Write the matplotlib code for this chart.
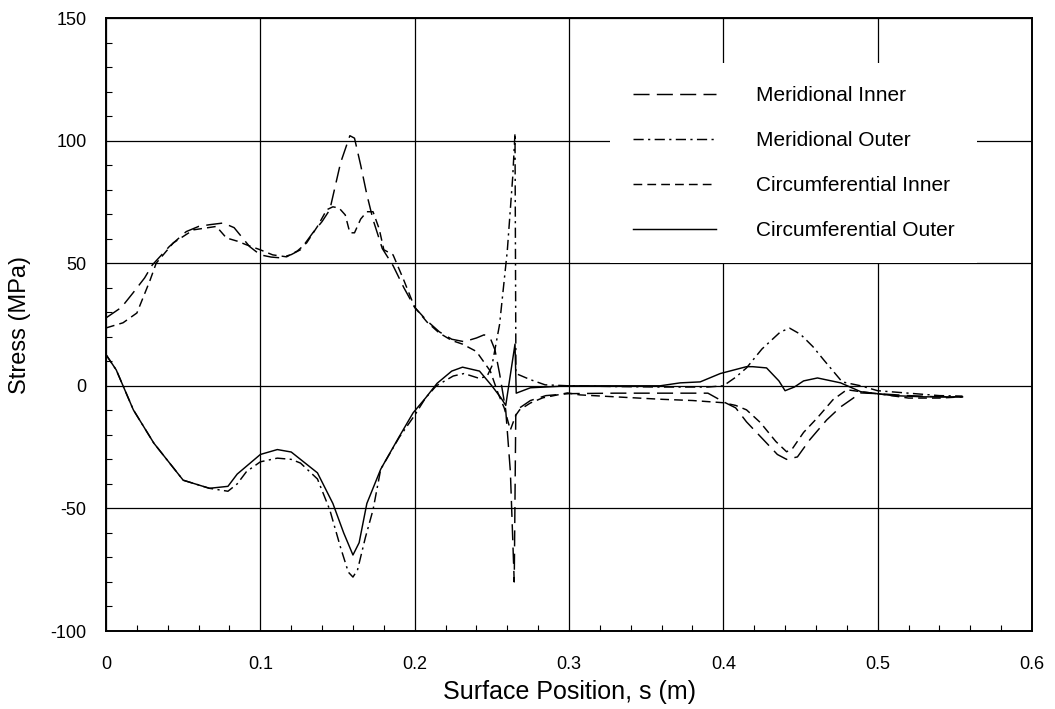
import matplotlib
matplotlib.use("Agg")
import matplotlib.pyplot as plt
from matplotlib.ticker import MultipleLocator, FuncFormatter

plt.rcParams["font.family"] = ["Liberation Sans", "DejaVu Sans"]
plt.rcParams["axes.unicode_minus"] = False

# Surface position (m) and stress (MPa) for each stress component
mer_in_s = [0, 0.010, 0.0175, 0.025, 0.030, 0.041, 0.052, 0.060, 0.067, 0.076, 0.083, 0.093,
            0.100, 0.107, 0.113, 0.120, 0.126, 0.134, 0.140, 0.145, 0.152, 0.158, 0.161, 0.165,
            0.169, 0.173, 0.179, 0.186, 0.193, 0.200, 0.208, 0.216, 0.224, 0.232, 0.240, 0.245,
            0.249, 0.252, 0.255, 0.259, 0.262, 0.2645, 0.2655, 0.268, 0.275, 0.285, 0.300, 0.330,
            0.360, 0.390, 0.400, 0.408, 0.415, 0.426, 0.435, 0.441, 0.448, 0.456, 0.467, 0.476,
            0.489, 0.500, 0.520, 0.540, 0.555]
mer_in = [27.7, 32, 37.9, 44, 49.3, 56.8, 62.9, 65, 65.7, 66.4, 64.5, 56.8,
          53.4, 52.5, 52.2, 53.5, 55.5, 62.4, 67, 71.8, 91, 102, 101, 90,
          78, 67.8, 56, 49, 40, 32, 26.5, 22, 19, 18, 19.5, 20.8,
          19.4, 14.7, 5, -10, -35, -80, -12, -9, -6, -4, -3.2, -3,
          -3, -3, -6.5, -9, -14.7, -22, -28, -30, -29, -22, -13.9, -8.6,
          -2.9, -3.2, -4, -4.5, -4.5]

mer_out_s = [0, 0.0066, 0.0177, 0.031, 0.050, 0.067, 0.079, 0.085, 0.091, 0.100, 0.111, 0.120,
             0.126, 0.137, 0.145, 0.152, 0.157, 0.160, 0.163, 0.168, 0.173, 0.178, 0.190, 0.200,
             0.207, 0.214, 0.225, 0.232, 0.242, 0.247, 0.250, 0.255, 0.260, 0.2635, 0.2650,
             0.2656, 0.275, 0.2845, 0.300, 0.330, 0.360, 0.390, 0.400, 0.408, 0.415, 0.425,
             0.437, 0.443, 0.450, 0.458, 0.465, 0.477, 0.489, 0.500, 0.520, 0.540, 0.555]
mer_out = [12.7, 6.5, -9.8, -23.4, -38.5, -41.8, -43, -40, -35, -31, -29.5, -30,
           -31.5, -38, -50.6, -66, -76, -78, -75, -62, -50.6, -34, -21, -12,
           -5, 0, 4, 5, 3, 4, 8, 25, 55, 85, 103,
           5, 2.5, 0.4, 0, -0.3, -0.5, -0.5, 0, 3.5, 7.3, 15,
           22, 23.5, 21, 16, 10.6, 1.6, 0, -2, -3, -4, -4.2]

circ_in_s = [0, 0.011, 0.020, 0.0285, 0.0325, 0.0436, 0.0566, 0.0715, 0.078, 0.085, 0.091,
             0.0998, 0.108, 0.117, 0.124, 0.130, 0.137, 0.143, 0.147, 0.151, 0.155, 0.158,
             0.161, 0.165, 0.169, 0.173, 0.177, 0.180, 0.186, 0.193, 0.200, 0.208, 0.216,
             0.224, 0.231, 0.240, 0.249, 0.254, 0.258, 0.262, 0.2655, 0.268, 0.275, 0.283,
             0.299, 0.307, 0.330, 0.360, 0.380, 0.400, 0.408, 0.415, 0.424, 0.434, 0.441,
             0.445, 0.452, 0.461, 0.471, 0.480, 0.490, 0.500, 0.520, 0.540, 0.555]
circ_in = [23.6, 25.7, 29.7, 43, 50, 58.3, 63.6, 65, 60.3, 59, 57.5,
           55.5, 53.4, 52.6, 55, 58.3, 65, 71.8, 73, 72.5, 69.7, 62.4,
           62.4, 68, 71, 71, 64, 55.5, 53.4, 43, 32, 26, 21.5,
           18.5, 17, 14, 6, -3, -9, -18, -12, -9.8, -7, -4.9,
           -2.9, -3.7, -4.5, -5.5, -6, -6.9, -8, -9.8, -15, -22.7, -26.9,
           -25.4, -19, -13, -5.7, -1.6, -2.5, -3.2, -5, -5, -4.5]

circ_out_s = [0, 0.0066, 0.0177, 0.031, 0.050, 0.067, 0.079, 0.085, 0.091, 0.100, 0.111,
              0.120, 0.126, 0.137, 0.147, 0.154, 0.160, 0.164, 0.169, 0.178, 0.190, 0.199,
              0.207, 0.2145, 0.224, 0.231, 0.242, 0.250, 0.256, 0.259, 0.265, 0.2658, 0.275,
              0.300, 0.330, 0.359, 0.372, 0.385, 0.398, 0.415, 0.419, 0.428, 0.436, 0.440,
              0.446, 0.452, 0.461, 0.476, 0.489, 0.497, 0.510, 0.530, 0.555]
circ_out = [12.7, 6.5, -9.8, -23.4, -38.5, -41.8, -41, -36, -32.8, -28, -26,
            -27, -30, -35.5, -48, -60, -69, -64, -48, -34, -20.7, -11,
            -5, 1, 6, 7.6, 6, 0, -5, -8, 17, -3, -0.8,
            0, 0, 0, 1.2, 1.6, 5, 7.8, 7.8, 7.3, 2, -2,
            -0.5, 2, 3.2, 1.2, -2.4, -3, -4, -4.5, -4.5]

labels = ["Meridional Inner", "Meridional Outer", "Circumferential Inner", "Circumferential Outer"]

fig = plt.figure(figsize=(10.55, 7.09), dpi=100)
ax = fig.add_axes([0.1005, 0.110, 0.8777, 0.8646])

lw = 1.05
ax.plot(mer_in_s, mer_in, color="black", lw=lw, dashes=(11, 5), label=labels[0])
ax.plot(mer_out_s, mer_out, color="black", lw=lw, dashes=(7, 3, 1.5, 3), label=labels[1])
ax.plot(circ_in_s, circ_in, color="black", lw=lw, dashes=(6, 3.5), label=labels[2])
ax.plot(circ_out_s, circ_out, color="black", lw=lw, label=labels[3])

ax.set_xlim(0, 0.6)
ax.set_ylim(-100, 150)
ax.xaxis.set_major_locator(MultipleLocator(0.1))
ax.xaxis.set_minor_locator(MultipleLocator(0.02))
ax.yaxis.set_major_locator(MultipleLocator(50))
ax.yaxis.set_minor_locator(MultipleLocator(10))
ax.xaxis.set_major_formatter(FuncFormatter(lambda v, p: "0" if abs(v) < 1e-9 else f"{v:.1f}"))
ax.grid(True, which="major", color="black", lw=0.9)
ax.tick_params(which="major", length=0, labelsize=13)
ax.tick_params(axis="x", which="major", pad=18)
ax.tick_params(axis="y", which="major", pad=14)
ax.tick_params(which="minor", direction="in", length=4, width=0.8, color="black")
for sp in ax.spines.values():
    sp.set_linewidth(1.4)

ax.set_xlabel("Surface Position, s (m)", fontsize=18, labelpad=5)
ax.set_ylabel("Stress (MPa)", fontsize=17, labelpad=14)

# white legend box sits over the grid, no frame edge
leg = ax.legend(loc="upper left", bbox_to_anchor=(610 / 1055, 1 - 63 / 709),
                bbox_transform=fig.transFigure, frameon=True, fancybox=False,
                edgecolor="none", facecolor="white", framealpha=1.0, fontsize=15,
                handlelength=4.0, handletextpad=1.9, labelspacing=1.25, borderpad=1.1,
                borderaxespad=0)
leg.set_zorder(5)

fig.savefig("out.png", dpi=100)
